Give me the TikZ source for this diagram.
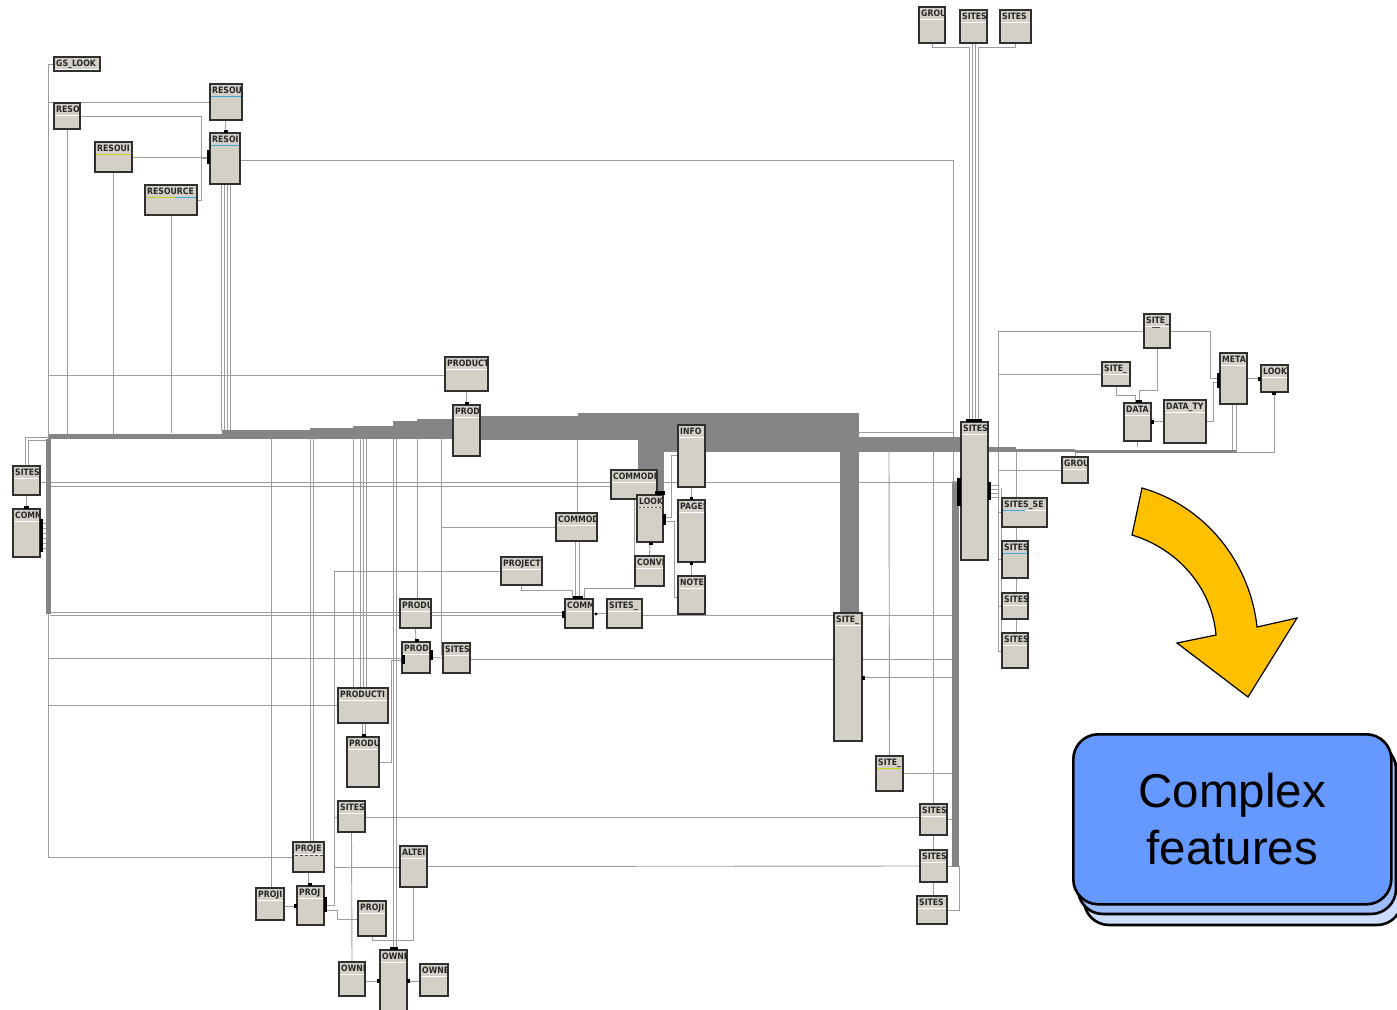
\documentclass[tikz,border=0pt]{standalone}
\usepackage{fontspec}
\newfontfamily\tblfont{DejaVu Sans}[FakeStretch=0.88]
\newfontfamily\cffont{Liberation Sans}
\pgfdeclarelayer{wires}
\pgfsetlayers{wires,main}
\definecolor{boxfill}{HTML}{D4D0C8}
\definecolor{boxedge}{HTML}{303030}
\definecolor{wire}{HTML}{9C9C9C}
\definecolor{bus}{HTML}{858585}
\definecolor{hlblue}{HTML}{3BA9E0}
\definecolor{hlyellow}{HTML}{C8D020}
\definecolor{cfblue}{HTML}{6699FF}
\definecolor{cfmid}{HTML}{9DBBFF}
\definecolor{cfback}{HTML}{CCDDFF}
\definecolor{arrowfill}{HTML}{FFC000}
\tikzset{
  dbbox/.style={draw=boxedge, fill=boxfill, line width=1.35pt, inner sep=0pt, outer sep=0pt, anchor=north west},
  dbhead/.style={font=\tblfont\bfseries\fontsize{8.8}{9}\selectfont, text=black!85, inner sep=0pt, anchor=north west},
  sepline/.style={draw=white, line width=1pt},
  wireline/.style={draw=wire, line width=0.9pt},
  busfill/.style={fill=bus},
  endmark/.style={fill=black},
}
% one database table: name, left, top, right, bottom, caption
\newcommand\dbtable[6]{%
  \node[dbbox, minimum width={(#4-#2)*1pt}, minimum height={(#5-#3)*1pt}] (#1) at (#2,#3) {};
  \draw[sepline] ({#2+1},{#3+12.5}) -- ({#4-1},{#3+12.5});
  \begin{scope}
    \clip ({#2+0.7},{#3+0.7}) rectangle ({#4-1},{#5-0.7});
    \node[dbhead] (#1-t) at ({#2+2},{#3+2.5}) {#6};
  \end{scope}}
\begin{document}
\begin{tikzpicture}[x=1pt,y=-1pt]
\useasboundingbox (0,0) rectangle (1397,1009);

% ---------------- tables ----------------
\dbtable{gslook}{54}{57}{100}{71}{GS\_LOOK}
\dbtable{resoA}{54}{103}{80}{129}{RESO}
\dbtable{resouT}{210}{84}{242}{120}{RESOU}
\dbtable{resouM}{95}{142}{132}{172}{RESOUI}
\dbtable{resource}{145}{185}{197}{215}{RESOURCE}
\dbtable{resoB}{210}{133}{240}{184}{RESOI}
\dbtable{product}{445}{357}{488}{391}{PRODUCT}
\dbtable{prodA}{453}{405}{480}{456}{PROD}
\dbtable{sitesL}{13}{466}{40}{495}{SITES}
\dbtable{commL}{13}{509}{40}{557}{COMM}
\dbtable{info}{678}{425}{705}{487}{INFO}
\dbtable{commodi}{611}{470}{657}{499}{COMMODI}
\dbtable{lookA}{637}{495}{663}{542}{LOOK}
\dbtable{pages}{678}{500}{705}{562}{PAGES}
\dbtable{commod}{556}{513}{597}{541}{COMMOD}
\dbtable{conv}{635}{556}{664}{586}{CONVI}
\dbtable{project}{501}{557}{542}{585}{PROJECT}
\dbtable{note}{678}{576}{705}{614}{NOTE}
\dbtable{commM}{565}{599}{593}{628}{COMM}
\dbtable{sitesU}{607}{599}{642}{628}{SITES\_}
\dbtable{produA}{400}{599}{431}{628}{PRODU}
\dbtable{prodB}{402}{642}{430}{673}{PROD}
\dbtable{sitesP}{443}{643}{470}{673}{SITES}
\dbtable{producti}{338}{688}{388}{723}{PRODUCTI}
\dbtable{produB}{347}{737}{379}{787}{PRODU}
\dbtable{sitesQ}{338}{801}{365}{832}{SITES}
\dbtable{proje}{293}{842}{324}{872}{PROJE}
\dbtable{alter}{400}{846}{427}{887}{ALTEI}
\dbtable{projL}{256}{888}{284}{920}{PROJI}
\dbtable{projM}{297}{886}{324}{925}{PROJ}
\dbtable{projR}{358}{901}{386}{936}{PROJI}
\dbtable{ownL}{339}{962}{365}{996}{OWNE}
\dbtable{ownM}{380}{950}{407}{1014}{OWNE}
\dbtable{ownR}{420}{964}{448}{996}{OWNE}
\dbtable{grouT}{919}{7}{945}{43}{GROU}
\dbtable{sitesTa}{960}{10}{987}{43}{SITES}
\dbtable{sitesTb}{1000}{10}{1031}{43}{SITES}
\dbtable{siteA}{1144}{314}{1170}{348}{SITE\_}
\dbtable{siteB}{1102}{362}{1130}{386}{SITE\_}
\dbtable{meta}{1220}{353}{1247}{404}{META}
\dbtable{lookB}{1261}{365}{1288}{392}{LOOK}
\dbtable{data}{1124}{403}{1151}{441}{DATA}
\dbtable{datatype}{1164}{400}{1206}{443}{DATA\_TY}
\dbtable{sitesBig}{961}{422}{988}{560}{SITES}
\dbtable{grouR}{1062}{457}{1088}{483}{GROU}
\dbtable{sitesSE}{1002}{498}{1047}{527}{SITES\_SE}
\dbtable{sitesRa}{1002}{541}{1028}{578}{SITES}
\dbtable{sitesRb}{1002}{593}{1028}{619}{SITES}
\dbtable{sitesRc}{1002}{633}{1028}{668}{SITES}
\dbtable{siteTall}{834}{613}{862}{741}{SITE\_}
\dbtable{siteC}{876}{756}{903}{791}{SITE\_}
\dbtable{sitesBa}{920}{804}{947}{835}{SITES}
\dbtable{sitesBb}{920}{850}{947}{882}{SITES}
\dbtable{sitesBc}{917}{896}{947}{924}{SITES}

% coloured key lines under some captions
\draw[hlblue, line width=1pt] (211,96.5) -- (241,96.5);
\draw[hlblue, line width=1pt] (211,145.5) -- (239,145.5);
\draw[hlyellow, line width=1pt] (96,154.5) -- (131,154.5);
\draw[hlyellow, line width=1pt] (146,197.5) -- (175,197.5);
\draw[hlblue, line width=1pt] (175,197.5) -- (196,197.5);
\draw[hlblue, line width=1pt] (1003,510.5) -- (1025,510.5);
\draw[hlblue, line width=1pt] (1003,553.5) -- (1027,553.5);
\draw[hlyellow, line width=1pt] (877,768.5) -- (902,768.5);
\draw[black!70, line width=0.8pt, dash pattern=on 2pt off 2pt] (639,507.5) -- (662,507.5);
\draw[black!70, line width=0.8pt, dash pattern=on 3pt off 2pt] (295,855) -- (323,855);
\draw[black!70, line width=1pt] (1152,327) -- (1160,327);

% relationship end markers
\fill[endmark] (465,402) rectangle (469,405);
\fill[endmark] (224,130) rectangle (228,133);
\fill[endmark] (207,150) rectangle (210,164);
\fill[endmark] (573,596) rectangle (583,599);
\fill[endmark] (562,611) rectangle (565,618);
\fill[endmark] (596,614) circle (1.6);
\fill[endmark] (655,491) rectangle (665,495);
\fill[endmark] (663,514) rectangle (666,525);
\fill[endmark] (649,542) rectangle (653,545);
\fill[endmark] (690,497) rectangle (693,500);
\fill[endmark] (690,562) rectangle (693,565);
\fill[endmark] (415,639) rectangle (419,642);
\fill[endmark] (402,655) rectangle (405,664);
\fill[endmark] (430,650) rectangle (433,660);
\fill[endmark] (362,734) rectangle (366,737);
\fill[endmark] (308,883) rectangle (312,886);
\fill[endmark] (294,904) rectangle (297,908);
\fill[endmark] (324,897) rectangle (327,912);
\fill[endmark] (390,947) rectangle (398,950);
\fill[endmark] (377,979) rectangle (380,983);
\fill[endmark] (407,979) rectangle (410,983);
\fill[endmark] (966,419) rectangle (982,422);
\fill[endmark] (957,478) rectangle (961,506);
\fill[endmark] (988,482) rectangle (991,500);
\fill[endmark] (1136,400) rectangle (1142,403);
\fill[endmark] (1151,420) rectangle (1154,424);
\fill[endmark] (1217,373) rectangle (1220,388);
\fill[endmark] (1258,377) rectangle (1261,381);
\fill[endmark] (1272,392) rectangle (1276,395);
\fill[endmark] (862,676) rectangle (865,680);
\fill[endmark] (24,506) rectangle (29,509);
\fill[endmark] (40,519) rectangle (43,552);

% ---------------- connectors ----------------
\begin{pgfonlayer}{wires}
% resource cluster
\draw[wireline] (gslook.west) -- (48,64) -- (48,857) -- (proje.west);
\draw[wireline] (48,102) -- (resouT.west);
\draw[wireline] (resoA.east) -- (201,116) -- (201,158) -- (resoB.west |- 0,158);
\draw[wireline] (resouM.east) -- (resoB.west |- resouM.east);
\draw[wireline] (resource.east) -- (201,200) -- (201,158);
\draw[wireline] (resouT.south) -- (resoB.north);
\draw[wireline] (resoB.east |- 0,160) -- (953,160) -- (953,483);
\draw[wireline] (resoA.south) -- (67,436);
\draw[wireline] (resouM.south) -- (113.5,434);
\draw[wireline] (resource.south) -- (171,433);
\foreach \xx in {221,224,227,230} \draw[wireline] (\xx,184) -- (\xx,431);
\draw[wireline] (48,375) -- (product.west |- 0,375);
% left edge
\draw[wireline] (49,437) -- (25,437) -- (25,466);
\draw[wireline] (49,440) -- (28,440) -- (28,466);
\draw[wireline] (sitesL.south) -- (commL.north);
\draw[wireline] (sitesL.east |- 0,482) -- (961,482);
\draw[wireline] (50,486) -- (commodi.west |- 0,486);
\foreach \yy in {523,528,533,538,543,548} \draw[wireline] (40,\yy) -- (47,\yy);
\draw[wireline] (50,612) -- (commM.west |- 0,612);
\draw[wireline] (50,615) -- (commM.west |- 0,615);
\draw[wireline] (commM.east) -- (sitesU.west);
\draw[wireline] (sitesU.east |- 0,615) -- (955,615);
\draw[wireline] (48,658) -- (prodB.west |- 0,658);
\draw[wireline] (sitesP.east |- 0,659) -- (955,659);
\draw[wireline] (48,705) -- (producti.west |- 0,705);
% lower middle
\draw[wireline] (sitesQ.east |- 0,817) -- (sitesBa.west |- 0,817);
\draw[wireline] (alter.east) -- (sitesBb.west);
\draw[wireline] (project.west) -- (334,571) -- (334,905) -- (projM.east |- 0,905);
\draw[wireline] (334,817) -- (sitesQ.west |- 0,817);
\draw[wireline] (334,867) -- (alter.west |- 0,867);
\draw[wireline] (projM.east |- 0,910) -- (337,910) -- (337,919) -- (projR.west |- 0,919);
\draw[wireline] (alter.south) -- (413.5,940) -- (372,940) -- (projR.south);
\draw[wireline] (ownL.east |- 0,981) -- (ownM.west |- 0,981);
\draw[wireline] (ownM.east |- 0,981) -- (ownR.west |- 0,981);
\draw[wireline] (sitesQ.south) -- (ownL.north);
\draw[wireline] (proje.south) -- (308.5,886);
\draw[wireline] (projL.east |- 0,906) -- (projM.west |- 0,906);
\draw[wireline] (362,723) -- (362,737);
\draw[wireline] (365,723) -- (365,737);
\draw[wireline] (produB.east |- 0,762) -- (391,762) -- (391,660) -- (prodB.west |- 0,660);
\draw[wireline] (produA.south) -- (prodB.north);
\draw[wireline] (prodB.east) -- (sitesP.west);
\draw[wireline] (441,439) -- (441,655);
\draw[wireline] (441,527) -- (commod.west);
\draw[wireline] (product.south) -- (prodA.north);
\draw[wireline] (prodA.east) -- (484,430.5);
\draw[wireline] (577,440) -- (577,513);
\draw[wireline] (575,541) -- (575,599);
\draw[wireline] (579,541) -- (579,599);
\draw[wireline] (521,585) -- (521,590) -- (572,590) -- (572,599);
\draw[wireline] (584,599) -- (584,588) -- (634,588) -- (634,499);
\draw[wireline] (conv.north) -- (lookA.south);
\draw[wireline] (lookA.east |- 0,517) -- (671,517) -- (671,455) -- (info.west |- 0,455);
\draw[wireline] (lookA.east |- 0,521) -- (674,521) -- (674,597) -- (note.west |- 0,597);
\draw[wireline] (info.south) -- (pages.north);
\draw[wireline] (note.north) -- (pages.south);
% drops from the trunk
\draw[wireline] (271,439) -- (271,888);
\draw[wireline] (310,439) -- (310,842);
\draw[wireline] (313,439) -- (313,842);
\draw[wireline] (353,439) -- (353,688);
\foreach \xx in {360,363,366} \draw[wireline] (\xx,439) -- (\xx,688);
\draw[wireline] (393,439) -- (393,950);
\draw[wireline] (396,439) -- (396,950);
\draw[wireline] (417,439) -- (417,599);
% right part
\draw[wireline] (grouT.south) -- (932,47) -- (969,47) -- (969,422);
\draw[wireline] (972,43) -- (972,422);
\draw[wireline] (975,43) -- (975,422);
\draw[wireline] (sitesTb.south) -- (1015.5,47) -- (978,47) -- (978,422);
\draw[wireline] (859,432) -- (953,432);
\draw[wireline] (siteA.west) -- (998,331) -- (998,651) -- (sitesRc.west |- 0,651);
\draw[wireline] (siteB.west) -- (998,374);
\draw[wireline] (grouR.west) -- (998,470);
\draw[wireline] (998,512.5) -- (sitesSE.west);
\draw[wireline] (998,559.5) -- (sitesRa.west);
\draw[wireline] (998,606) -- (sitesRb.west);
\draw[wireline] (1001,488) -- (1001,650);
\foreach \yy in {485,489,493,497} \draw[wireline] (991,\yy) -- (998,\yy);
\foreach \yy in {481,486,491,496,501} \draw[wireline] (952,\yy) -- (957,\yy);
\draw[wireline] (1016,452) -- (1016,668);
\draw[wireline] (grouR.north) -- (1075,452);
\draw[wireline] (siteA.south) -- (1157,390) -- (1139,390) -- (1139,403);
\draw[wireline] (siteB.south) -- (1116,395) -- (1135,395) -- (1135,403);
\draw[wireline] (siteA.east) -- (1210,331) -- (1210,378) -- (meta.west |- 0,378);
\draw[wireline] (datatype.east) -- (1213,421.5) -- (1213,382) -- (meta.west |- 0,382);
\draw[wireline] (datatype.west) -- (data.east |- datatype.west);
\draw[wireline] (meta.east) -- (lookB.west);
\draw[wireline] (1232,404) -- (1232,452);
\draw[wireline] (1236,404) -- (1236,452);
\draw[wireline] (lookB.south) -- (1274.5,452) -- (1236,452);
\draw[wireline] (data.south) -- (1137.5,447);
\draw[wireline] (889,452) -- (siteC.north);
\draw[wireline] (933,452) -- (933,896);
\draw[wireline] (siteTall.east) -- (955,677);
\draw[wireline] (siteC.east) -- (955,773.5);
\draw[wireline] (sitesBa.east) -- (955,819.5);
\draw[wireline] (sitesBb.east) -- (957,866);
\draw[wireline] (sitesBc.east) -- (959,910) -- (959,866);

% the heavy trunk of bundled links
\fill[busfill] (49,434) rectangle (222,439);
\fill[busfill] (222,429.5) rectangle (310,439);
\fill[busfill] (310,428) rectangle (353,439);
\fill[busfill] (353,426) rectangle (393,439);
\fill[busfill] (393,421) rectangle (417,439);
\fill[busfill] (417,419) rectangle (455,439);
\fill[busfill] (479,416) rectangle (580,440);
\fill[busfill] (578,413) rectangle (859,440);
\fill[busfill] (638,439) rectangle (664,471);
\fill[busfill] (655,470) rectangle (664,493);
\fill[busfill] (663,439) rectangle (859,452);
\fill[busfill] (840,451) rectangle (859,614);
\fill[busfill] (858,437) rectangle (962,452);
\fill[busfill] (987,447) rectangle (1016,452);
\fill[busfill] (1016,448.5) rectangle (1075,452);
\fill[busfill] (1075,450) rectangle (1236,452.5);
\fill[busfill] (46,439) rectangle (51,614);
\fill[busfill] (952,483) rectangle (959,867);
\end{pgfonlayer}

% ---------------- callout ----------------
\draw[fill=arrowfill, line width=1.2pt, line join=miter]
  (1142,488) .. controls (1205,506) and (1250,562) .. (1257,627)
  -- (1297,618) -- (1248,697) -- (1177,643) -- (1216,635)
  .. controls (1212,588) and (1178,549) .. (1132,535) -- cycle;
\draw[fill=cfback, line width=2.6pt, rounded corners=25pt] (1084,755) rectangle (1402,925);
\draw[fill=cfmid, line width=2.6pt, rounded corners=25pt] (1078,744) rectangle (1396,914);
\node[draw, fill=cfblue, line width=2.6pt, rounded corners=25pt, anchor=north west,
      minimum width=318pt, minimum height=170pt, align=center, inner sep=0pt,
      font=\cffont\fontsize{47.5}{57}\selectfont] (cf) at (1072,733) {Complex\\features};
\end{tikzpicture}
\end{document}
